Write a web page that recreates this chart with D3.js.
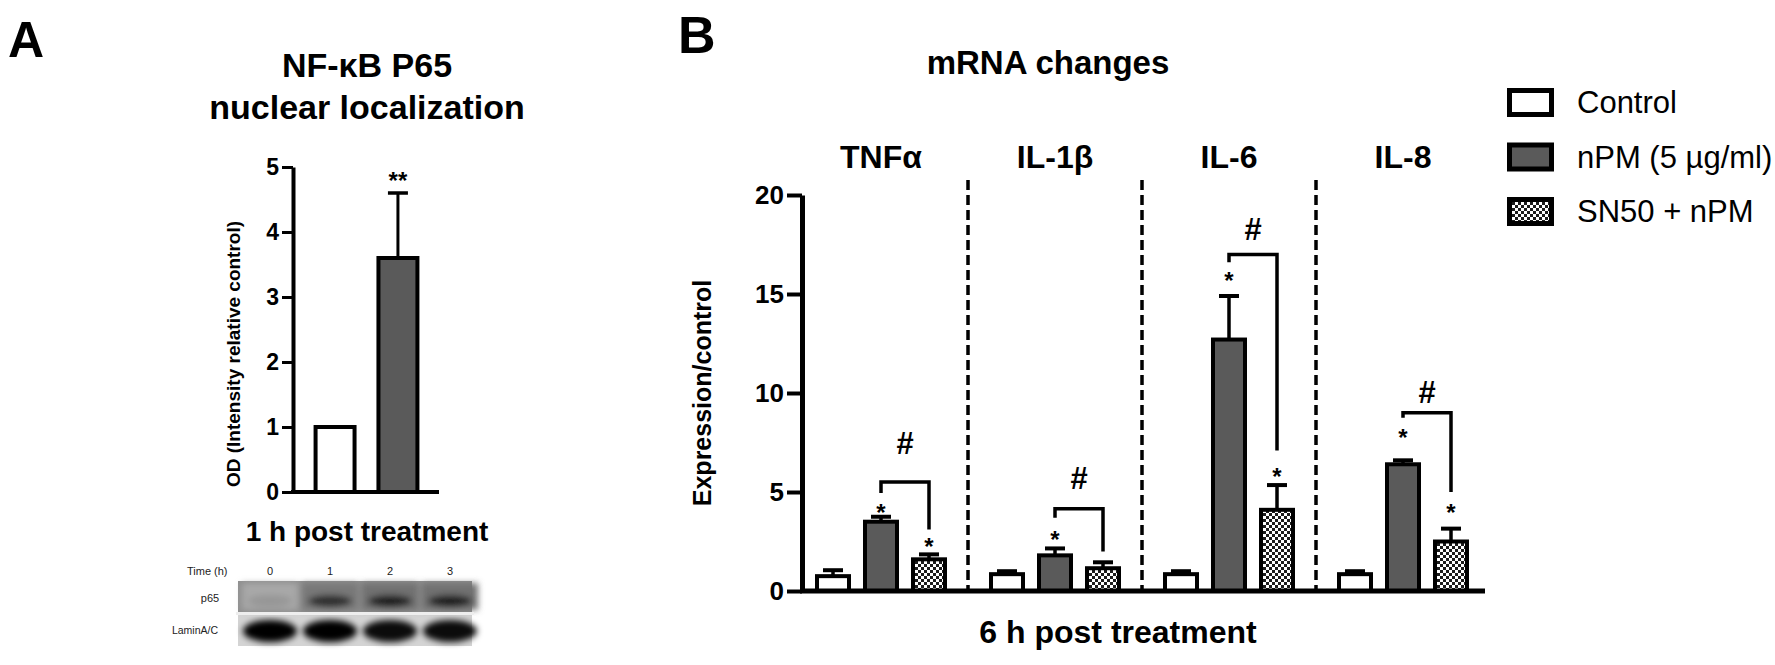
<!DOCTYPE html>
<html>
<head>
<meta charset="utf-8">
<script src="https://cdn.jsdelivr.net/npm/d3@7"></script>
<style>
  body { margin: 0; background: #fff; }
  svg { display: block; font-family: "Liberation Sans", Arial, Helvetica, sans-serif; }
</style>
</head>
<body>
<script>
var width = 1775,
  height = 665;

// Panel A data
var groupsA = ["Control", "nPM"];
var meansA = [1.0, 3.6];
var errorsA = [0, 1.0];
var ticksA = [0, 1, 2, 3, 4, 5];

// Panel B data
var genes = ["TNFα", "IL-1β", "IL-6", "IL-8"];
var series = ["Control", "nPM (5 µg/ml)", "SN50 + nPM"];
var controlMeans = [0.75, 0.85, 0.85, 0.85];
var controlErrors = [0.3, 0.15, 0.15, 0.15];
var npmMeans = [3.5, 1.8, 12.7, 6.4];
var npmErrors = [0.25, 0.35, 2.2, 0.2];
var sn50Means = [1.6, 1.15, 4.1, 2.5];
var sn50Errors = [0.25, 0.3, 1.25, 0.65];
var ticksB = [0, 5, 10, 15, 20];

// significance marks (in y units)
var npmStars = [4.2, 2.85, 15.9, 8.0];
var sn50Stars = [2.5, null, 6.0, 4.2];
var bracketTop = [5.5, 4.15, 17.0, 9.0];
var bracketLeft = [4.95, 3.7, 16.6, 8.75];
var bracketRight = [3.1, 2.0, 7.1, 5.0];
var hashAt = [7.5, 5.7, 18.3, 10.05];

// western blot lanes
var blotLanes = ["0", "1", "2", "3"];
var p65Signal = [0.12, 0.8, 0.9, 0.9];
var laminSignal = [1, 1, 0.95, 0.95];

var fills = ["#ffffff", "#5a5a5a", "url(#checker)"];

var svg = d3.select("body").append("svg")
  .attr("width", width)
  .attr("height", height);

var defs = svg.append("defs");

var checker = defs.append("pattern")
  .attr("id", "checker")
  .attr("patternUnits", "userSpaceOnUse")
  .attr("width", 6)
  .attr("height", 6);
checker.append("rect").attr("width", 6).attr("height", 6).attr("fill", "#fff");
checker.append("rect").attr("width", 3).attr("height", 3).attr("fill", "#1c1c1c");
checker.append("rect").attr("x", 3).attr("y", 3).attr("width", 3).attr("height", 3).attr("fill", "#1c1c1c");

defs.append("filter")
  .attr("id", "blur")
  .attr("x", "-50%").attr("y", "-50%").attr("width", "200%").attr("height", "200%")
  .append("feGaussianBlur").attr("stdDeviation", 3);

function styleAxis(g, fontSize, lw) {
  g.select(".domain").attr("stroke", "#000").attr("stroke-width", lw);
  g.selectAll(".tick line").attr("stroke", "#000").attr("stroke-width", lw - 1);
  g.selectAll(".tick text")
    .attr("fill", "#000")
    .style("font-size", fontSize + "px")
    .style("font-weight", "bold")
    .style("font-family", "Liberation Sans, Arial, sans-serif");
}

// ---------------- Panel A ----------------
var gA = svg.append("g");

gA.append("text").attr("x", 8).attr("y", 57)
  .style("font-size", "50px").style("font-weight", "bold").text("A");

gA.append("text").attr("x", 367).attr("y", 77).attr("text-anchor", "middle")
  .style("font-size", "34px").style("font-weight", "bold").text("NF-κB P65");
gA.append("text").attr("x", 367).attr("y", 119).attr("text-anchor", "middle")
  .style("font-size", "34px").style("font-weight", "bold").text("nuclear localization");

var yA = d3.scaleLinear().domain([0, 5]).range([492, 167]);
var xA = d3.scaleBand().domain(groupsA).range([303, 430]).paddingInner(0.38).paddingOuter(0.2);

gA.selectAll("rect.bar")
  .data(meansA)
  .enter()
  .append("rect")
  .attr("class", "bar")
  .attr("x", function (d, i) { return xA(groupsA[i]); })
  .attr("y", function (d) { return yA(d); })
  .attr("width", xA.bandwidth())
  .attr("height", function (d) { return yA(0) - yA(d); })
  .attr("fill", function (d, i) { return fills[i]; })
  .attr("stroke", "#000")
  .attr("stroke-width", 4);

meansA.forEach(function (m, i) {
  if (!errorsA[i]) return;
  var cx = xA(groupsA[i]) + xA.bandwidth() / 2;
  gA.append("line").attr("x1", cx).attr("x2", cx)
    .attr("y1", yA(m)).attr("y2", yA(m + errorsA[i]))
    .attr("stroke", "#000").attr("stroke-width", 3);
  gA.append("line").attr("x1", cx - 10).attr("x2", cx + 10)
    .attr("y1", yA(m + errorsA[i])).attr("y2", yA(m + errorsA[i]))
    .attr("stroke", "#000").attr("stroke-width", 3.5);
  gA.append("text").attr("x", cx).attr("y", yA(m + errorsA[i]) - 4)
    .attr("text-anchor", "middle")
    .style("font-size", "24px").style("font-weight", "bold").text("**");
});

var axisA = gA.append("g")
  .attr("transform", "translate(293,0)")
  .call(d3.axisLeft(yA).tickValues(ticksA).tickFormat(d3.format("d"))
    .tickSize(11).tickSizeOuter(0).tickPadding(3));
styleAxis(axisA, 23, 4);

gA.append("line").attr("x1", 291).attr("x2", 439)
  .attr("y1", yA(0)).attr("y2", yA(0))
  .attr("stroke", "#000").attr("stroke-width", 4);

gA.append("text")
  .attr("transform", "translate(240,354) rotate(-90)")
  .attr("text-anchor", "middle")
  .style("font-size", "19px").style("font-weight", "bold")
  .text("OD (Intensity relative control)");

gA.append("text").attr("x", 367).attr("y", 541).attr("text-anchor", "middle")
  .style("font-size", "28px").style("font-weight", "bold").text("1 h post treatment");

// western blot
var lane = d3.scalePoint().domain(blotLanes).range([270, 450]);
var blot = svg.append("g");

blot.append("rect").attr("x", 238).attr("y", 581).attr("width", 234).attr("height", 31).attr("fill", "#8e8e8e");
blot.append("rect").attr("x", 238).attr("y", 615).attr("width", 234).attr("height", 31).attr("fill", "#d4d4d4");

var blurred = blot.append("g").attr("filter", "url(#blur)");
blurred.selectAll("rect.lanebg")
  .data(p65Signal)
  .enter()
  .append("rect")
  .attr("class", "lanebg")
  .attr("x", function (d, i) { return lane(blotLanes[i]) - 28; })
  .attr("y", 583)
  .attr("width", 56)
  .attr("height", 27)
  .attr("fill", function (d) { return d3.interpolateRgb("#b0b0b0", "#6a6a6a")(d); });
blurred.selectAll("ellipse.p65")
  .data(p65Signal)
  .enter()
  .append("ellipse")
  .attr("class", "p65")
  .attr("cx", function (d, i) { return lane(blotLanes[i]); })
  .attr("cy", 601)
  .attr("rx", 22)
  .attr("ry", 6)
  .attr("fill", "#151515")
  .attr("opacity", function (d) { return d; });
blurred.selectAll("ellipse.lamin")
  .data(laminSignal)
  .enter()
  .append("ellipse")
  .attr("class", "lamin")
  .attr("cx", function (d, i) { return lane(blotLanes[i]); })
  .attr("cy", 631)
  .attr("rx", 27)
  .attr("ry", 11)
  .attr("fill", "#050505")
  .attr("opacity", function (d) { return d; });
blot.append("rect").attr("x", 236).attr("y", 612).attr("width", 238).attr("height", 3).attr("fill", "#eeeeee");

blot.append("text").attr("x", 187).attr("y", 575)
  .style("font-size", "11px").attr("fill", "#222").text("Time (h)");
blot.selectAll("text.lane")
  .data(blotLanes)
  .enter()
  .append("text")
  .attr("class", "lane")
  .attr("x", function (d) { return lane(d); })
  .attr("y", 575)
  .attr("text-anchor", "middle")
  .style("font-size", "11px")
  .attr("fill", "#222")
  .text(function (d) { return d; });
blot.append("text").attr("x", 210).attr("y", 602).attr("text-anchor", "middle")
  .style("font-size", "11px").attr("fill", "#222").text("p65");
blot.append("text").attr("x", 218).attr("y", 634).attr("text-anchor", "end")
  .style("font-size", "10.5px").attr("fill", "#222").text("LaminA/C");

// ---------------- Panel B ----------------
var gB = svg.append("g");

gB.append("text").attr("x", 678).attr("y", 53)
  .style("font-size", "52px").style("font-weight", "bold").text("B");

gB.append("text").attr("x", 1048).attr("y", 74).attr("text-anchor", "middle")
  .style("font-size", "33px").style("font-weight", "bold").text("mRNA changes");

var yB = d3.scaleLinear().domain([0, 20]).range([591, 195]);
var xB = d3.scaleBand().domain(genes).range([794, 1490]);
var xInner = d3.scaleBand().domain(series).range([15, 159]).paddingInner(0.25).paddingOuter(0.125);

var meansB = [controlMeans, npmMeans, sn50Means];
var errorsB = [controlErrors, npmErrors, sn50Errors];

// dashed separators
gB.selectAll("line.sep")
  .data(genes.slice(1))
  .enter()
  .append("line")
  .attr("class", "sep")
  .attr("x1", function (d) { return xB(d); })
  .attr("x2", function (d) { return xB(d); })
  .attr("y1", 180)
  .attr("y2", yB(0))
  .attr("stroke", "#000")
  .attr("stroke-width", 3.5)
  .attr("stroke-dasharray", "10,5");

gB.selectAll("text.gene")
  .data(genes)
  .enter()
  .append("text")
  .attr("class", "gene")
  .attr("x", function (d) { return xB(d) + xB.bandwidth() / 2; })
  .attr("y", 168)
  .attr("text-anchor", "middle")
  .style("font-size", "32px")
  .style("font-weight", "bold")
  .text(function (d) { return d; });

function barX(g, s) {
  return xB(genes[g]) + xInner(series[s]) + xInner.bandwidth() / 2;
}

series.forEach(function (name, s) {
  var barW = xInner.bandwidth() - 4;
  gB.selectAll("rect.s" + s)
    .data(meansB[s])
    .enter()
    .append("rect")
    .attr("class", "s" + s)
    .attr("x", function (d, g) { return barX(g, s) - barW / 2; })
    .attr("y", function (d) { return yB(d); })
    .attr("width", barW)
    .attr("height", function (d) { return yB(0) - yB(d); })
    .attr("fill", fills[s])
    .attr("stroke", "#000")
    .attr("stroke-width", 4);

  meansB[s].forEach(function (m, g) {
    var cx = barX(g, s), top = yB(m + errorsB[s][g]);
    gB.append("line").attr("x1", cx).attr("x2", cx)
      .attr("y1", yB(m)).attr("y2", top)
      .attr("stroke", "#000").attr("stroke-width", 3.5);
    gB.append("line").attr("x1", cx - 10).attr("x2", cx + 10)
      .attr("y1", top).attr("y2", top)
      .attr("stroke", "#000").attr("stroke-width", 4);
  });
});

// significance: stars, brackets and hashes
function star(x, v) {
  gB.append("text").attr("x", x).attr("y", yB(v) + 13)
    .attr("text-anchor", "middle")
    .style("font-size", "24px").style("font-weight", "bold").text("*");
}

genes.forEach(function (gene, g) {
  var xl = barX(g, 1), xr = barX(g, 2);
  star(xl, npmStars[g]);
  if (sn50Stars[g] !== null) star(xr, sn50Stars[g]);
  gB.append("path")
    .attr("d", "M" + xl + "," + yB(bracketLeft[g]) + "V" + yB(bracketTop[g]) +
      "H" + xr + "V" + yB(bracketRight[g]))
    .attr("fill", "none")
    .attr("stroke", "#000")
    .attr("stroke-width", 3.5);
  gB.append("text").attr("x", (xl + xr) / 2).attr("y", yB(hashAt[g]) + 11)
    .attr("text-anchor", "middle")
    .style("font-size", "31px").style("font-weight", "bold").text("#");
});

var axisB = gB.append("g")
  .attr("transform", "translate(802,0)")
  .call(d3.axisLeft(yB).tickValues(ticksB).tickSize(15).tickSizeOuter(0).tickPadding(3));
styleAxis(axisB, 26, 5);

gB.append("line").attr("x1", 800).attr("x2", 1485)
  .attr("y1", yB(0)).attr("y2", yB(0))
  .attr("stroke", "#000").attr("stroke-width", 5);

gB.append("text")
  .attr("transform", "translate(711,393) rotate(-90)")
  .attr("text-anchor", "middle")
  .style("font-size", "25px").style("font-weight", "bold")
  .text("Expression/control");

gB.append("text").attr("x", 1118).attr("y", 643).attr("text-anchor", "middle")
  .style("font-size", "32px").style("font-weight", "bold").text("6 h post treatment");

// legend
var legend = svg.append("g").attr("transform", "translate(1509,90)");
var item = legend.selectAll("g.item")
  .data(series)
  .enter()
  .append("g")
  .attr("class", "item")
  .attr("transform", function (d, i) { return "translate(0," + i * 54.5 + ")"; });
item.append("rect")
  .attr("x", 0.5).attr("y", 0.5)
  .attr("width", 42).attr("height", 24)
  .attr("fill", function (d, i) { return fills[i]; })
  .attr("stroke", "#000")
  .attr("stroke-width", 5);
item.append("text")
  .attr("x", 68)
  .attr("y", 23)
  .style("font-size", "31px")
  .text(function (d) { return d; });
</script>
</body>
</html>
